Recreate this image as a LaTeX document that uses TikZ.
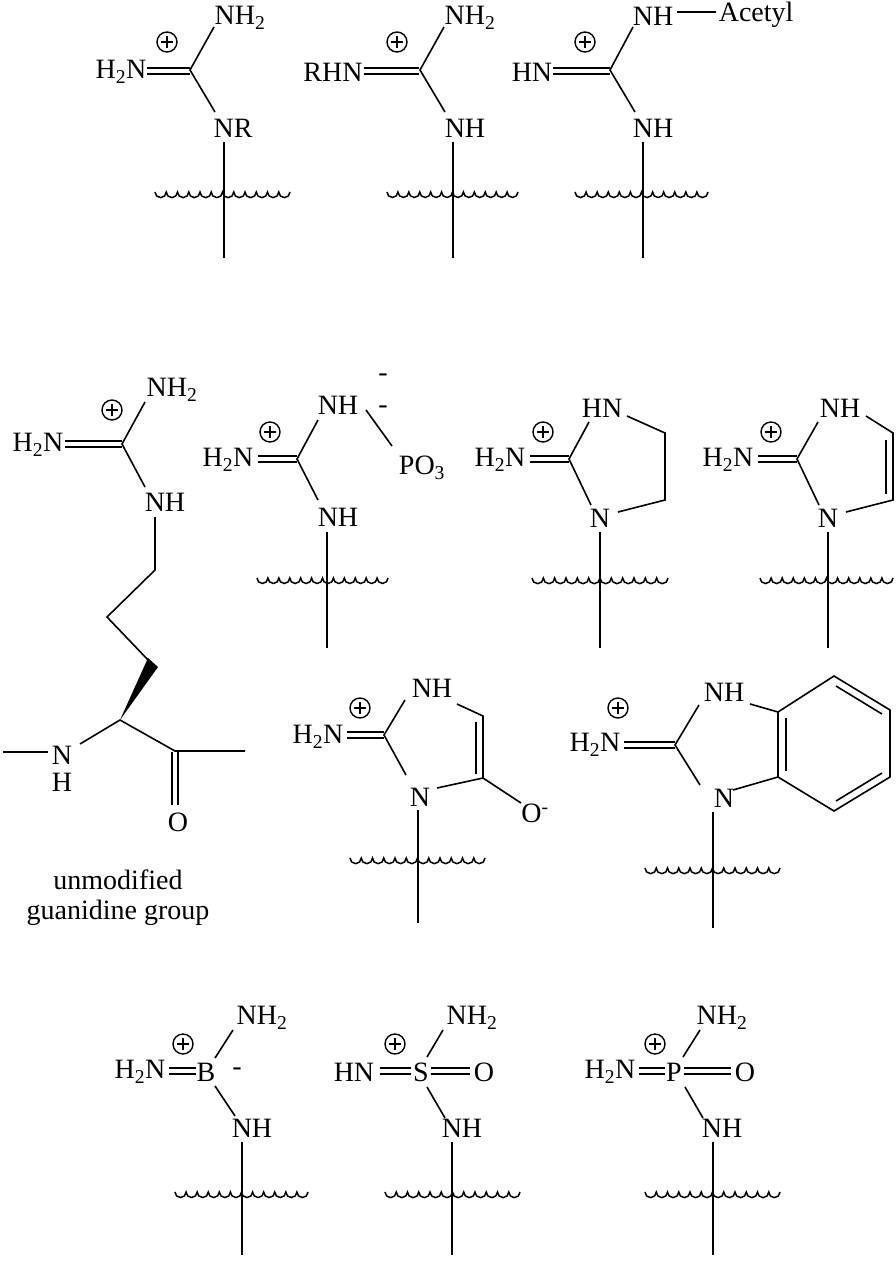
\documentclass[tikz,border=0pt]{standalone}
\usepackage{fontspec}
\setmainfont{Liberation Serif}
\begin{document}
\begin{tikzpicture}[x=1pt,y=-1pt,line width=1.6pt,
  lbl/.style={inner sep=0pt,font=\fontsize{28}{32}\selectfont}]
\useasboundingbox[fill=white] (0,0) rectangle (896,1262);
\newcommand\wvline[3]{\draw[line width=1.5pt] (#1,#3) \foreach \k in {1,...,12}{ arc[start angle=180,end angle=0,radius={(#2-#1)/24}]};}
\newcommand\plusc[2]{\draw[line width=1.4pt] (#1,#2) circle (10); \draw[line width=1.4pt] (#1-6,#2)--(#1+6,#2) (#1,#2-6)--(#1,#2+6);}
\newcommand\dbh[3]{\draw (#1,#3-3)--(#2,#3-3) (#1,#3+3)--(#2,#3+3);}
% ---------- Row 1 ----------
\node[lbl] (a1) at (121,72) {H\textsubscript{2}N};
\node[lbl] (a2) at (240,18) {NH\textsubscript{2}};
\node[lbl] (a3) at (233,128) {NR};
\dbh{147}{190}{71}
\draw (214,27)--(190,70)--(215,112);
\draw (224,142)--(224,258);
\wvline{155}{290}{192}
\plusc{167}{42}
\node[lbl] (b1) at (333,72) {RHN};
\node[lbl] (b2) at (470,18) {NH\textsubscript{2}};
\node[lbl] (b3) at (465,128) {NH};
\dbh{364}{419}{71}
\draw (444,27)--(420,70)--(445,112);
\draw (453,142)--(453,258);
\wvline{387}{518}{192}
\plusc{397}{42}
\node[lbl] (c1) at (532,72) {HN};
\node[lbl] (c2) at (653,16) {NH};
\node[lbl,anchor=west] (c4) at (718,15) {Acetyl};
\node[lbl] (c3) at (653,128) {NH};
\dbh{553}{610}{71}
\draw (633,27)--(610,70)--(635,112);
\draw (677,12)--(716,12);
\draw (643,142)--(643,258);
\wvline{575}{708}{192}
\plusc{585}{42}
% ---------- Row 2 ----------
\node[lbl] (d1) at (38,445) {H\textsubscript{2}N};
\node[lbl] (d2) at (172,390) {NH\textsubscript{2}};
\node[lbl] (d3) at (165,502) {NH};
\node[lbl] (d4) at (62,755) {N};
\node[lbl] (d5) at (62,782) {H};
\node[lbl] (d6) at (178,822) {O};
\dbh{65}{122}{444}
\draw (145,402)--(122,444)--(145,487);
\draw (155,517)--(155,570)--(107,617)--(150,662);
\fill (120,720)--(148,658)--(158,667)--cycle;
\draw (3,752)--(48,752);
\draw (80,744)--(120,720)--(175,751)--(245,751);
\draw (172,752)--(172,805) (178,752)--(178,805);
\node[lbl] (d7) at (118,880) {unmodified};
\node[lbl] (d8) at (118,913) {guanidine group};
\plusc{112}{410}
\node[lbl] (e1) at (228,460) {H\textsubscript{2}N};
\node[lbl] (e2) at (338,405) {NH};
\node[lbl] (e3) at (422,468) {PO\textsubscript{3}};
\node[lbl] (e4) at (383,378) {-};
\node[lbl] (e5) at (383,410) {-};
\node[lbl] (e6) at (338,517) {NH};
\dbh{258}{297}{459}
\draw (318,420)--(297,459)--(318,500);
\draw (366,410)--(392,446);
\draw (327,532)--(327,648);
\wvline{257}{388}{578}
\plusc{270}{432}
\node[lbl] (f1) at (500,460) {H\textsubscript{2}N};
\node[lbl] (f2) at (602,408) {HN};
\node[lbl] (f3) at (600,518) {N};
\dbh{530}{569}{459}
\draw (589,422)--(569,459)--(591,505);
\draw (627,416)--(665,433)--(665,500)--(618,512);
\draw (600,532)--(600,648);
\wvline{532}{668}{578}
\plusc{543}{432}
\node[lbl] (g1) at (728,460) {H\textsubscript{2}N};
\node[lbl] (g2) at (840,408) {NH};
\node[lbl] (g3) at (828,518) {N};
\dbh{758}{797}{459}
\draw (818,422)--(797,459)--(819,505);
\draw (866,416)--(893,433)--(893,500)--(846,512);
\draw (886,440)--(886,494);
\draw (828,532)--(828,648);
\wvline{760}{893}{578}
\plusc{771}{432}
% ---------- Row 3 ----------
\node[lbl] (h1) at (318,737) {H\textsubscript{2}N};
\node[lbl] (h2) at (432,688) {NH};
\node[lbl] (h3) at (420,797) {N};
\node[lbl] (h4) at (535,813) {O\textsuperscript{-}};
\dbh{347}{384}{735}
\draw (405,700)--(384,735)--(406,775);
\draw (457,704)--(483,716)--(483,778)--(437,788);
\draw (476,722)--(476,774);
\draw (483,778)--(521,803);
\draw (418,810)--(418,923);
\wvline{350}{485}{858}
\plusc{360}{708}
\node[lbl] (k1) at (595,745) {H\textsubscript{2}N};
\node[lbl] (k2) at (724,692) {NH};
\node[lbl] (k3) at (724,798) {N};
\dbh{624}{675}{745}
\draw (699,705)--(675,745)--(700,785);
\draw (750,704)--(778,712);
\draw (778,712)--(834,676)--(890,710)--(890,777)--(834,811)--(778,777)--cycle;
\draw (778,777)--(733,790);
\draw (786,718)--(786,771);
\draw (836,686)--(882,714);
\draw (882,773)--(836,801);
\draw (713,812)--(713,928);
\wvline{645}{780}{868}
\plusc{618}{708}
% ---------- Row 4 ----------
\node[lbl] (m1) at (140,1072) {H\textsubscript{2}N};
\node[lbl] (m2) at (206,1072) {B};
\node[lbl] (m3) at (262,1018) {NH\textsubscript{2}};
\node[lbl] (m4) at (237,1072) {-};
\node[lbl] (m5) at (252,1128) {NH};
\dbh{169}{196}{1071}
\draw (215,1058)--(233,1030) (215,1086)--(235,1116);
\draw (242,1142)--(242,1255);
\wvline{175}{308}{1192}
\plusc{183}{1044}
\node[lbl] (n1) at (354,1072) {HN};
\node[lbl] (n2) at (421,1072) {S};
\node[lbl] (n3) at (472,1018) {NH\textsubscript{2}};
\node[lbl] (n4) at (484,1072) {O};
\node[lbl] (n5) at (462,1128) {NH};
\dbh{380}{411}{1071}
\dbh{431}{470}{1071}
\draw (427,1057)--(443,1030) (427,1087)--(445,1118);
\draw (452,1142)--(452,1255);
\wvline{385}{520}{1192}
\plusc{395}{1044}
\node[lbl] (p1) at (610,1072) {H\textsubscript{2}N};
\node[lbl] (p2) at (674,1072) {P};
\node[lbl] (p3) at (722,1018) {NH\textsubscript{2}};
\node[lbl] (p4) at (745,1072) {O};
\node[lbl] (p5) at (722,1128) {NH};
\dbh{639}{665}{1071}
\dbh{684}{731}{1071}
\draw (683,1057)--(700,1030) (685,1087)--(703,1118);
\draw (713,1142)--(713,1255);
\wvline{645}{780}{1192}
\plusc{655}{1044}
\end{tikzpicture}
\end{document}
